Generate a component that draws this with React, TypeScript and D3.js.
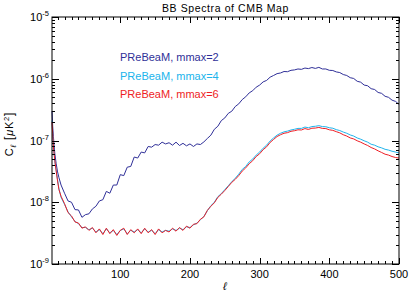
import React, { useRef, useEffect } from 'react';
import * as d3 from 'd3';

const ells = [
  2, 3, 4, 6, 8, 10, 12, 15,
  20, 25, 30, 35, 40, 45, 50, 55, 60, 65,
  70, 75, 80, 85, 90, 95, 100, 105, 110, 115,
  120, 125, 130, 135, 140, 145, 150, 155, 160, 165,
  170, 175, 180, 185, 190, 195, 200, 205, 210, 215,
  220, 225, 230, 235, 240, 245, 250, 255, 260, 265,
  270, 275, 280, 285, 290, 295, 300, 305, 310, 315,
  320, 325, 330, 335, 340, 345, 350, 355, 360, 365,
  370, 375, 380, 385, 390, 395, 400, 405, 410, 415,
  420, 425, 430, 435, 440, 445, 450, 455, 460, 465,
  470, 475, 480, 485, 490, 495, 500,
];

// C_l values in units of 1e-9 uK^2
const mmax2 = [
  300, 170, 115, 62, 42, 31, 25, 19,
  14, 10.5, 10, 7.6, 7.5, 5.7, 6.3, 6.5, 7.8, 8.6,
  10.5, 11, 15, 14, 19, 19, 28, 27, 37, 38,
  54, 52, 65, 63, 80, 78, 86, 84, 94, 88,
  92, 84, 94, 83, 90, 82, 88, 80, 88, 86,
  95, 108, 122, 152, 170, 210, 232, 275, 298, 355,
  392, 460, 510, 590, 640, 730, 790, 890, 940, 1060,
  1130, 1210, 1240, 1310, 1300, 1370, 1390, 1440, 1420, 1490,
  1460, 1520, 1470, 1530, 1440, 1440, 1370, 1360, 1290, 1260,
  1170, 1130, 1040, 1010, 910, 880, 790, 770, 690, 670,
  600, 580, 520, 500, 450, 430, 385,
];

const mmax4 = [
  210, 125, 85, 46, 33, 23, 16.5, 12,
  9.2, 7.0, 5.8, 4.9, 4.5, 3.9, 3.9, 3.6, 3.8, 3.3,
  3.6, 3.1, 3.7, 3.2, 3.5, 3.0, 3.5, 3.7, 3.1, 3.5,
  3.3, 3.6, 3.2, 3.7, 3.3, 3.5, 3.1, 3.6, 3.3, 3.5,
  3.4, 3.7, 3.5, 3.8, 3.6, 4.0, 3.9, 4.3, 4.6, 5.2,
  5.9, 7.3, 8.8, 10, 12.3, 13.8, 16, 18.5, 21.5, 24.5,
  28.5, 34, 38, 45, 50, 58, 65, 75, 84, 98,
  110, 122, 131, 138, 142, 148, 152, 157, 157, 165,
  161, 168, 170, 174, 168, 167, 161, 158, 150, 145,
  137, 131, 123, 118, 110, 105, 99, 94, 87, 84,
  79, 76, 72, 70, 67, 65, 63,
];

const mmax6 = [
  200, 130, 80, 48, 32, 22, 16, 12.5,
  9.5, 6.8, 6.0, 4.8, 4.6, 3.8, 4.0, 3.5, 3.9, 3.2,
  3.7, 3.0, 3.8, 3.1, 3.6, 2.9, 3.5, 3.8, 3.0, 3.6,
  3.2, 3.7, 3.1, 3.8, 3.2, 3.6, 3.0, 3.7, 3.2, 3.5,
  3.3, 3.8, 3.4, 3.9, 3.5, 4.1, 3.8, 4.4, 4.5, 5.3,
  5.8, 7.4, 8.6, 9.8, 12, 13.5, 15.5, 18, 21, 23.5,
  27, 32, 36, 42, 47, 55, 61, 71, 79, 93,
  104, 116, 124, 131, 134, 141, 144, 149, 148, 156,
  151, 158, 159, 163, 157, 156, 149, 146, 139, 133,
  124, 118, 110, 106, 99, 94, 88, 83, 77, 73,
  68, 64, 60, 58, 55, 53, 52,
];

const seriesNames = ['PReBeaM, mmax=2', 'PReBeaM, mmax=4', 'PReBeaM, mmax=6'];
const seriesColors = ['#2f2f98', '#20b4ec', '#ee1d25'];
const seriesValues = [mmax2, mmax4, mmax6];

const W = 415;
const H = 297;
const left = 52, right = 399, top = 17, bottom = 264;
const font = '"Liberation Sans", Arial, sans-serif';

export default function App() {
  const ref = useRef<SVGSVGElement>(null);

  useEffect(() => {
    const svg = d3.select(ref.current);
    svg.selectAll('*').remove();

    const x = d3.scaleLinear().domain([2, 500]).range([left, right]);
    const y = d3.scaleLog().domain([1e-9, 1e-5]).range([bottom, top]);

    const line = d3
      .line<[number, number]>()
      .x(d => x(d[0]))
      .y(d => y(d[1] * 1e-9));

    const curves = svg.append('g');
    seriesValues.forEach((vals, i) => {
      curves
        .append('path')
        .attr('d', line(ells.map((l, j) => [l, vals[j]] as [number, number])))
        .attr('fill', 'none')
        .attr('stroke', seriesColors[i])
        .attr('stroke-width', 1);
    });

    // frame
    svg
      .append('rect')
      .attr('x', left)
      .attr('y', top)
      .attr('width', right - left)
      .attr('height', bottom - top)
      .attr('fill', 'none')
      .attr('stroke', '#000')
      .attr('stroke-width', 1);

    const ticks = svg.append('g').attr('stroke', '#000').attr('stroke-width', 1);

    // x ticks, both edges, pointing in
    const xMajor = x.ticks(5);
    x.ticks(50).forEach(t => {
      const len = xMajor.includes(t) ? 6 : 3;
      const px = Math.round(x(t)) + 0.5;
      ticks.append('line').attr('x1', px).attr('x2', px).attr('y1', bottom).attr('y2', bottom - len);
      ticks.append('line').attr('x1', px).attr('x2', px).attr('y1', top).attr('y2', top + len);
    });

    // y ticks, both edges
    const isMajor = (v: number) => Math.abs(Math.log10(v) - Math.round(Math.log10(v))) < 1e-6;
    y.ticks().forEach(t => {
      const len = isMajor(t) ? 7 : 3;
      const py = Math.round(y(t)) + 0.5;
      ticks.append('line').attr('x1', left).attr('x2', left + len).attr('y1', py).attr('y2', py);
      ticks.append('line').attr('x1', right).attr('x2', right - len).attr('y1', py).attr('y2', py);
    });

    // x tick labels
    svg
      .append('g')
      .selectAll('text')
      .data(xMajor)
      .enter()
      .append('text')
      .attr('x', d => x(d))
      .attr('y', 278)
      .attr('text-anchor', 'middle')
      .attr('font-family', font)
      .attr('font-size', 11)
      .attr('fill', '#000')
      .text(d => d);

    // y tick labels
    const yl = svg
      .append('g')
      .selectAll('text')
      .data(y.ticks().filter(isMajor))
      .enter()
      .append('text')
      .attr('x', 49)
      .attr('y', d => y(d) + 4)
      .attr('text-anchor', 'end')
      .attr('font-family', font)
      .attr('font-size', 11)
      .attr('fill', '#000');
    yl.append('tspan').text('10');
    yl.append('tspan')
      .attr('dy', -5)
      .attr('font-size', 7.5)
      .text(d => String(Math.round(Math.log10(d))));

    // title
    svg
      .append('text')
      .attr('x', (left + right) / 2)
      .attr('y', 12)
      .attr('text-anchor', 'middle')
      .attr('font-family', font)
      .attr('font-size', 10.5)
      .attr('letter-spacing', 0.6)
      .attr('fill', '#000')
      .text('BB Spectra of CMB Map');

    // axis titles
    svg
      .append('text')
      .attr('x', 225)
      .attr('y', 290)
      .attr('text-anchor', 'middle')
      .attr('font-family', font)
      .attr('font-style', 'italic')
      .attr('font-size', 11)
      .attr('fill', '#000')
      .text('ℓ');

    const ylab = svg
      .append('text')
      .attr('transform', 'translate(13,134) rotate(-90)')
      .attr('text-anchor', 'middle')
      .attr('font-family', font)
      .attr('font-size', 11)
      .attr('letter-spacing', 0.8)
      .attr('fill', '#000');
    ylab.append('tspan').text('C');
    ylab.append('tspan').attr('dy', 3).attr('font-size', 8).attr('font-style', 'italic').text('ℓ');
    ylab.append('tspan').attr('dy', -3).attr('font-size', 12).text('  [');
    ylab.append('tspan').attr('font-style', 'italic').text('μ');
    ylab.append('tspan').text('K');
    ylab.append('tspan').attr('dy', -4).attr('font-size', 7.5).text('2');
    ylab.append('tspan').attr('dy', 4).attr('font-size', 12).text(']');

    // legend
    svg
      .append('g')
      .selectAll('text')
      .data(seriesNames)
      .enter()
      .append('text')
      .attr('x', 120)
      .attr('y', (d, i) => 61 + i * 18.5)
      .attr('font-family', font)
      .attr('font-size', 11)
      .attr('fill', (d, i) => seriesColors[i])
      .text(d => d);
  }, []);

  return (
    <svg
      ref={ref}
      width={W}
      height={H}
      style={{ position: 'absolute', left: 0, top: 0, background: '#fff' }}
    />
  );
}
